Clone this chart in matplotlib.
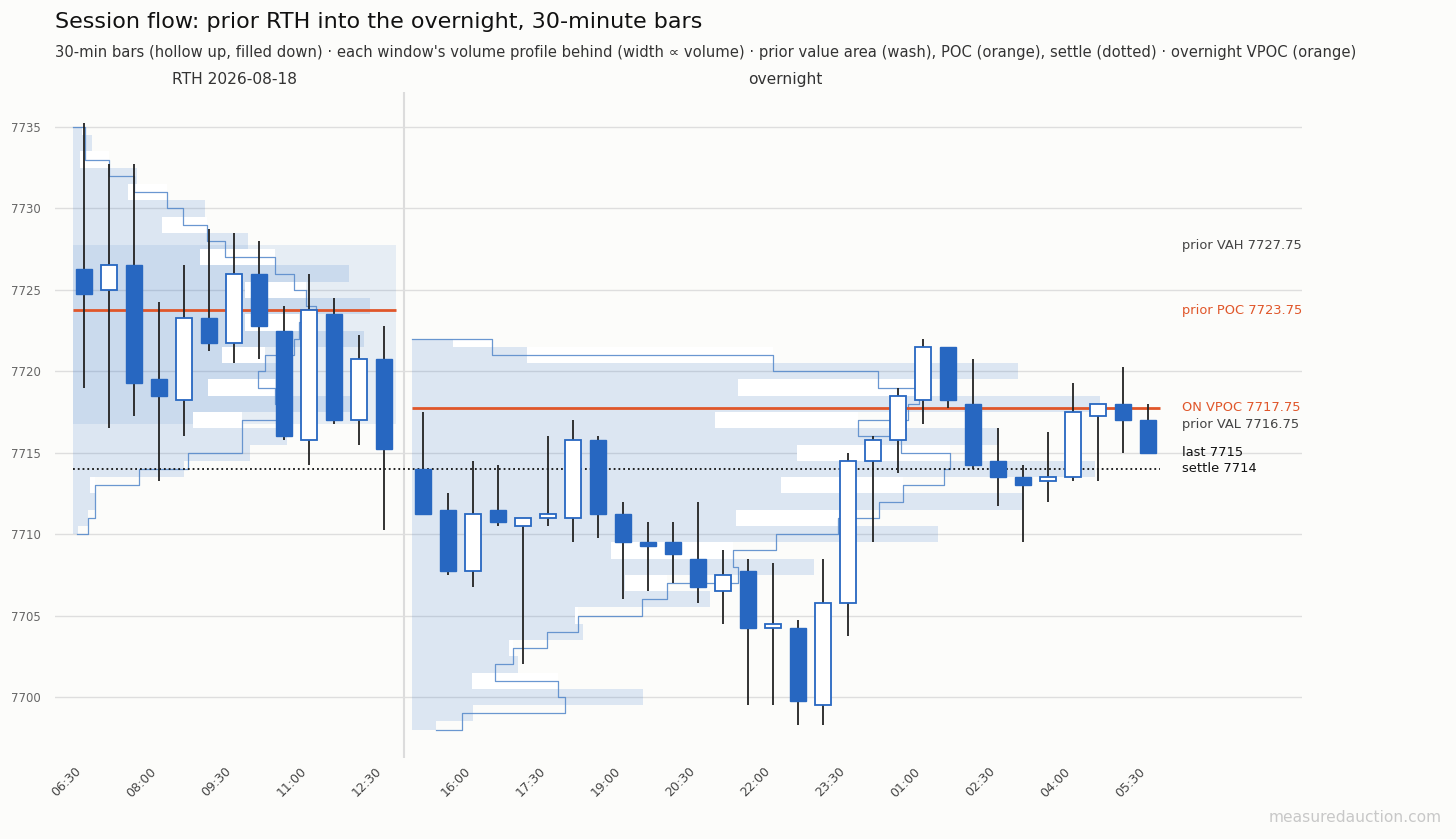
import numpy as np
import matplotlib
matplotlib.use("Agg")
import matplotlib.pyplot as plt
from matplotlib.transforms import blended_transform_factory

# ---------------- data ----------------
rth_times = ["06:30", "07:00", "07:30", "08:00", "08:30", "09:00", "09:30",
             "10:00", "10:30", "11:00", "11:30", "12:00", "12:30"]
rth_open = [7726.25, 7725.0, 7726.5, 7719.5, 7718.25, 7723.25, 7721.75,
            7726.0, 7722.5, 7715.75, 7723.5, 7717.0, 7720.75]
rth_high = [7735.25, 7732.75, 7732.75, 7724.25, 7726.5, 7728.75, 7728.5,
            7728.0, 7724.0, 7726.0, 7724.5, 7722.25, 7722.75]
rth_low = [7719.0, 7716.5, 7717.25, 7713.25, 7716.0, 7721.25, 7720.5,
           7720.75, 7715.75, 7714.25, 7716.75, 7715.5, 7710.25]
rth_close = [7724.75, 7726.5, 7719.25, 7718.5, 7723.25, 7721.75, 7726.0,
             7722.75, 7716.0, 7723.75, 7717.0, 7720.75, 7715.25]

on_times = ["15:00", "15:30", "16:00", "16:30", "17:00", "17:30", "18:00",
            "18:30", "19:00", "19:30", "20:00", "20:30", "21:00", "21:30",
            "22:00", "22:30", "23:00", "23:30", "00:00", "00:30", "01:00",
            "01:30", "02:00", "02:30", "03:00", "03:30", "04:00", "04:30",
            "05:00", "05:30"]
on_open = [7714.0, 7711.5, 7707.75, 7711.5, 7710.5, 7711.0, 7711.0, 7715.75,
           7711.25, 7709.5, 7709.5, 7708.5, 7706.5, 7707.75, 7704.25, 7704.25,
           7699.5, 7705.75, 7714.5, 7715.75, 7718.25, 7721.5, 7718.0, 7714.5,
           7713.5, 7713.25, 7713.5, 7717.25, 7718.0, 7717.0]
on_high = [7717.5, 7712.5, 7714.5, 7714.25, 7711.0, 7716.0, 7717.0, 7716.0,
           7712.0, 7710.75, 7710.75, 7712.0, 7709.0, 7708.5, 7708.25, 7704.75,
           7708.5, 7715.0, 7716.0, 7719.0, 7722.0, 7721.5, 7720.75, 7716.5,
           7714.25, 7716.25, 7719.25, 7718.0, 7720.25, 7718.0]
on_low = [7711.25, 7707.5, 7706.75, 7710.5, 7702.0, 7710.5, 7709.5, 7709.75,
          7706.0, 7706.5, 7707.0, 7705.75, 7704.5, 7699.5, 7699.5, 7698.25,
          7698.25, 7703.75, 7709.5, 7713.75, 7716.75, 7717.75, 7714.0, 7711.75,
          7709.5, 7712.0, 7713.25, 7713.25, 7715.0, 7715.0]
on_close = [7711.25, 7707.75, 7711.25, 7710.75, 7711.0, 7711.25, 7715.75,
            7711.25, 7709.5, 7709.25, 7708.75, 7706.75, 7707.5, 7704.25,
            7704.5, 7699.75, 7705.75, 7714.5, 7715.75, 7718.5, 7721.5, 7718.25,
            7714.25, 7713.5, 7713.0, 7713.5, 7717.5, 7718.0, 7717.0, 7715.0]

# volume profiles (1-pt levels, top to bottom), volume and smoothed volume
rth_levels = np.arange(7735, 7709, -1)
rth_vol = np.array([9, 19, 7, 64, 55, 132, 89, 175, 127, 277, 172, 298, 172,
                    292, 149, 217, 135, 279, 120, 215, 177, 111, 17, 22, 15, 5])
rth_smooth = np.array([12, 12, 36, 61, 94, 110, 134, 152, 202, 222, 234, 244,
                       227, 222, 192, 185, 202, 204, 169, 169, 115, 66, 22, 22,
                       15, 4])
on_levels = np.arange(7722, 7697, -1)
on_vol = np.array([41, 114, 603, 324, 685, 301, 584, 383, 680, 367, 609, 322,
                   524, 198, 400, 212, 296, 162, 170, 96, 105, 59, 230, 60, 24])
on_smooth = np.array([79, 359, 464, 505, 494, 444, 487, 535, 529, 489, 465,
                      424, 362, 319, 324, 254, 229, 165, 134, 100, 82, 145, 152,
                      50, 24])

prior_vah = 7727.75
prior_poc = 7723.75
prior_val = 7716.75
settle = 7714
on_vpoc = 7717.75
rth_date = "2026-08-18"

# ---------------- style ----------------
BG = "#fcfcfa"
BLUE = "#2a6ec8"
CANDLE = "#2767c1"
ORANGE = "#e0562a"
GAP = 0.56
PADL, PADR = 0.43, 0.48

fig = plt.figure(figsize=(14.56, 8.39), dpi=100, facecolor=BG)
ax = fig.add_axes([55 / 1456, 81 / 839, (1302 - 55) / 1456, 666 / 839])
ax.set_facecolor(BG)

rth_x = np.arange(len(rth_times), dtype=float)
on_x = rth_x[-1] + 1 + GAP + np.arange(len(on_times), dtype=float)
rth_win = (rth_x[0] - PADL, rth_x[-1] + PADR)
on_win = (on_x[0] - PADL, on_x[-1] + PADR)


def draw_profile(levels, vol, smooth, win):
    left, right = win
    k = 0.92 * (right - left) / vol.max()
    lo, hi = levels.min(), levels.max()
    bots = np.maximum(levels - 0.5, lo)
    tops = np.minimum(levels + 0.5, hi)
    w = vol * k
    ws = smooth * k
    gap = ws > w
    ax.barh(bots[gap], (ws - w)[gap], height=(tops - bots)[gap],
            left=left + w[gap], align="edge", color="white", lw=0,
            antialiased=False, zorder=1.5)
    ax.barh(bots, w, height=tops - bots, left=left, align="edge",
            color=BLUE, alpha=0.15, lw=0, antialiased=False, zorder=2)
    xs = np.concatenate([[left], left + ws])
    ys = np.concatenate([[hi], levels])
    ax.plot(xs, ys, drawstyle="steps-pre", color="#5a8ccc", lw=0.9,
            alpha=0.9, zorder=2.5)


# prior value area wash
ax.fill_between(list(rth_win), prior_val, prior_vah, color=BLUE, alpha=0.10,
                lw=0, zorder=1)
draw_profile(rth_levels, rth_vol, rth_smooth, rth_win)
draw_profile(on_levels, on_vol, on_smooth, on_win)

# reference lines
ax.hlines(prior_poc, *rth_win, color=ORANGE, lw=2.0, zorder=3)
ax.hlines(on_vpoc, *on_win, color=ORANGE, lw=2.0, zorder=3)
ax.hlines(settle, rth_win[0], on_win[1], color="#111111", lw=1.3,
          linestyles=":", zorder=3.5)
ax.axvline((rth_win[1] + on_win[0]) / 2, color="#dcdcdc", lw=1.5, zorder=0.5)


def draw_candles(x, o, h, l, c):
    o, h, l, c = map(np.asarray, (o, h, l, c))
    ax.vlines(x, l, h, color="#222222", lw=1.3, zorder=4)
    up = c >= o
    bottom = np.minimum(o, c)
    height = np.maximum(np.abs(c - o), 0.12)
    ax.bar(x[up], height[up], bottom=bottom[up], width=0.64, color="white",
           edgecolor=CANDLE, lw=1.3, zorder=5)
    ax.bar(x[~up], height[~up], bottom=bottom[~up], width=0.64, color=CANDLE,
           edgecolor=CANDLE, lw=1.0, zorder=5)


draw_candles(rth_x, rth_open, rth_high, rth_low, rth_close)
draw_candles(on_x, on_open, on_high, on_low, on_close)

# axes
all_x = np.concatenate([rth_x, on_x])
all_t = rth_times + on_times
ax.set_xlim(-1.16, 48.72)
ax.set_ylim(7696.25, 7737.15)
ax.set_xticks(all_x[::3])
ax.set_xticklabels(all_t[::3], rotation=45, ha="right", fontsize=9,
                   color="#444444")
ax.set_yticks(np.arange(7700, 7736, 5))
ax.tick_params(axis="y", length=0, pad=10, labelsize=8.5, labelcolor="#666666")
ax.tick_params(axis="x", length=0, pad=5)
ax.grid(axis="y", color="#dedede", lw=1.0)
ax.set_axisbelow(True)
for s in ax.spines.values():
    s.set_visible(False)

# right-hand labels (left-aligned just past the overnight window)
last = on_close[-1]
label_x = on_win[1] + 0.89
labels = [
    (prior_vah, f"prior VAH {prior_vah:g}", "#444444"),
    (prior_poc, f"prior POC {prior_poc:g}", ORANGE),
    (on_vpoc, f"ON VPOC {on_vpoc:g}", ORANGE),
    (prior_val, f"prior VAL {prior_val:g}", "#444444"),
    (last, f"last {last:g}", "#111111"),
    (settle, f"settle {settle:g}", "#111111"),
]
for y, txt, col in labels:
    ax.text(label_x, y, txt, ha="left", va="center", fontsize=9.4, color=col,
            clip_on=False)

# window labels
tw = blended_transform_factory(ax.transData, ax.transAxes)
ax.text(rth_x.mean(), 1.008, f"RTH {rth_date}", transform=tw, ha="center",
        va="bottom", fontsize=11.2, color="#333333")
ax.text(on_x.mean(), 1.008, "overnight", transform=tw, ha="center",
        va="bottom", fontsize=11.2, color="#333333")

fig.text(55 / 1456, 1 - 22 / 839,
         "Session flow: prior RTH into the overnight, 30-minute bars",
         fontsize=16, ha="left", va="center", color="#111111")
fig.text(55 / 1456, 1 - 53 / 839,
         "30-min bars (hollow up, filled down) · each window's volume profile "
         "behind (width ∝ volume) · prior value area (wash), POC (orange), "
         "settle (dotted) · overnight VPOC (orange)",
         fontsize=10.6, ha="left", va="center", color="#333333")
fig.text(1442 / 1456, 1 - 818 / 839, "measuredauction.com", ha="right",
         va="center", fontsize=11.2, color="#c8c8c8")

fig.savefig("out.png", dpi=100, facecolor=BG)
